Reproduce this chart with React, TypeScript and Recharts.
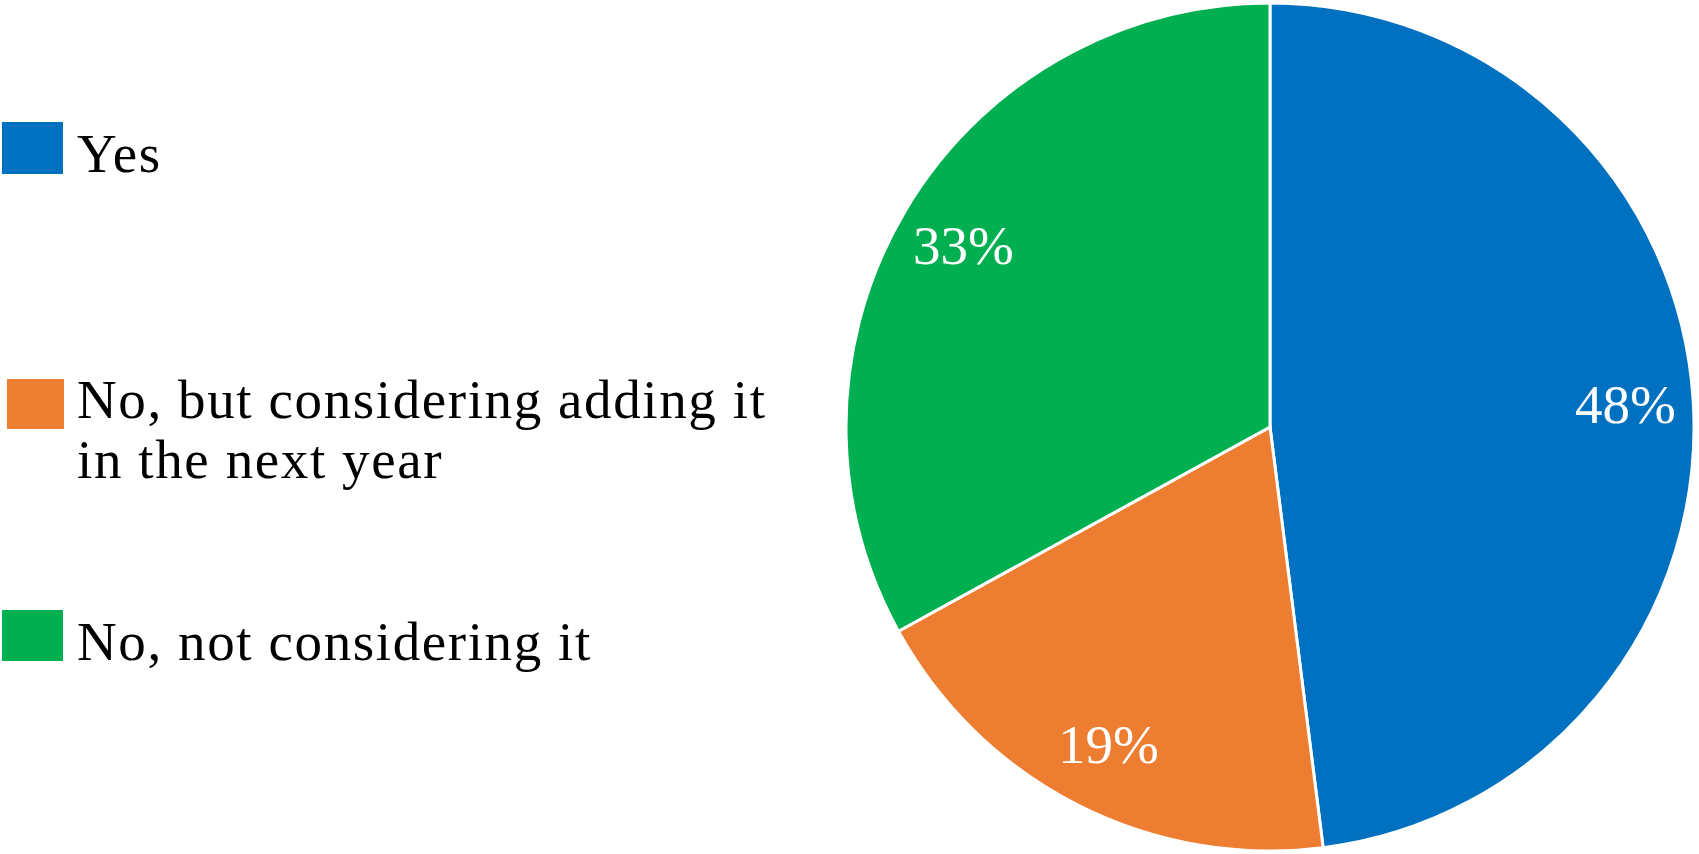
import { PieChart, Pie, Cell, Legend } from "recharts"

const categories = ["Yes", "No, but considering adding it in the next year", "No, not considering it"]
const legendLines = [["Yes"], ["No, but considering adding it", "in the next year"], ["No, not considering it"]]
const shares = [48, 19, 33]
const colors = ["#0070C0", "#ED7D31", "#00B050"]

const data = categories.map((name, i) => ({ name, value: shares[i] }))

// legend row placement (layout only)
const rowTop = [124, 370, 612]
const swatch = [
  { left: 2, top: -2, w: 61, h: 52 },
  { left: 7, top: 9, w: 57, h: 50 },
  { left: 2, top: -2, w: 61, h: 51 },
]

const RADIAN = Math.PI / 180

const renderLabel = (props: any) => {
  const { cx, cy, midAngle, outerRadius, value } = props
  const r = outerRadius * 0.84
  const x = cx + r * Math.cos(-midAngle * RADIAN)
  const y = cy + r * Math.sin(-midAngle * RADIAN)
  return (
    <text
      x={x}
      y={y}
      fill="#fff"
      textAnchor="middle"
      dominantBaseline="central"
      fontSize={55}
      fontFamily="'Liberation Serif', serif"
    >
      {value}%
    </text>
  )
}

const renderLegend = () => (
  <div style={{ position: "relative", width: 760, height: 854 }}>
    {legendLines.map((lines, i) => (
      <div key={i} style={{ position: "absolute", left: 0, top: rowTop[i] }}>
        <div
          style={{
            position: "absolute",
            left: swatch[i].left,
            top: swatch[i].top,
            width: swatch[i].w,
            height: swatch[i].h,
            background: colors[i],
          }}
        />
        <div
          style={{
            position: "absolute",
            left: 77,
            top: 0,
            whiteSpace: "nowrap",
            fontFamily: "'Liberation Serif', serif",
            fontSize: 55,
            lineHeight: "60px",
            letterSpacing: 1.6,
            color: "#000",
          }}
        >
          {lines.map((l) => (
            <div key={l}>{l}</div>
          ))}
        </div>
      </div>
    ))}
  </div>
)

export default function App() {
  return (
    <div style={{ position: "absolute", left: 0, top: 0, width: 1699, height: 854, background: "#fff" }}>
      <PieChart width={1699} height={854} margin={{ top: 0, right: 0, bottom: 0, left: 0 }}>
        <Pie
          data={data}
          dataKey="value"
          nameKey="name"
          cx={1270}
          cy={427}
          outerRadius={424}
          startAngle={90}
          endAngle={-270}
          stroke="#fff"
          strokeWidth={3}
          label={renderLabel}
          labelLine={false}
          isAnimationActive={false}
        >
          {data.map((d, i) => (
            <Cell key={d.name} fill={colors[i]} />
          ))}
        </Pie>
        <Legend
          content={renderLegend}
          wrapperStyle={{ left: 0, top: 0, width: 760, height: 854 }}
        />
      </PieChart>
    </div>
  )
}
